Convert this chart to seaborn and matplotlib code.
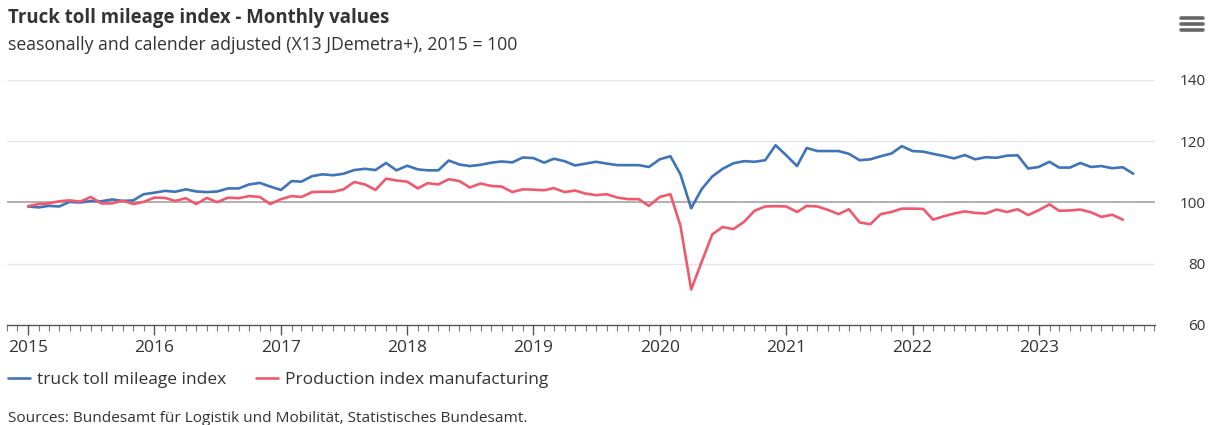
import numpy as np
import pandas as pd
import matplotlib
matplotlib.use("Agg")
import matplotlib.pyplot as plt
import matplotlib.dates as mdates
from matplotlib.lines import Line2D
import seaborn as sns

# ---------------- data ----------------
start_month = "2015-01-01"
truck_toll = [
    98.7, 98.4, 98.9, 98.7, 100.2, 100.0, 100.5, 100.4, 101.0, 100.5, 100.7, 102.7,
    103.2, 103.8, 103.5, 104.3, 103.6, 103.4, 103.6, 104.6, 104.6, 105.9, 106.4, 105.2,
    104.1, 107.0, 106.8, 108.6, 109.2, 108.9, 109.4, 110.6, 111.0, 110.6, 112.9, 110.5,
    112.0, 110.8, 110.5, 110.5, 113.7, 112.4, 111.9, 112.3, 113.0, 113.4, 113.1, 114.7,
    114.5, 113.0, 114.3, 113.5, 112.1, 112.7, 113.3, 112.7, 112.2, 112.2, 112.2, 111.6,
    114.1, 115.1, 109.2, 98.1, 104.3, 108.5, 111.0, 112.8, 113.5, 113.3, 113.8, 118.7,
    115.4, 111.9, 117.8, 116.8, 116.8, 116.8, 115.9, 113.8, 114.1, 115.1, 116.0, 118.4,
    116.8, 116.6, 115.9, 115.2, 114.4, 115.5, 114.1, 114.8, 114.6, 115.3, 115.4, 111.1,
    111.6, 113.3, 111.4, 111.4, 112.9, 111.6, 111.9, 111.2, 111.5, 109.4,
]
production = [
    98.8, 99.5, 99.7, 100.4, 100.7, 100.3, 101.8, 99.7, 99.7, 100.6, 99.5, 100.2,
    101.6, 101.5, 100.5, 101.4, 99.5, 101.5, 100.1, 101.6, 101.4, 102.1, 101.8, 99.5,
    101.1, 102.1, 101.8, 103.4, 103.5, 103.5, 104.3, 106.7, 105.9, 104.1, 107.8, 107.2,
    106.8, 104.6, 106.3, 105.9, 107.6, 107.0, 104.9, 106.2, 105.4, 105.2, 103.4, 104.3,
    104.2, 104.0, 104.7, 103.4, 103.9, 102.9, 102.4, 102.7, 101.6, 101.1, 101.1, 98.9,
    101.8, 102.7, 92.4, 71.6, 80.5, 89.6, 92.0, 91.3, 93.7, 97.3, 98.7, 98.8,
    98.7, 96.9, 98.9, 98.7, 97.6, 96.2, 97.8, 93.5, 92.9, 96.2, 96.9, 98.0,
    98.0, 97.9, 94.4, 95.5, 96.4, 97.1, 96.6, 96.4, 97.7, 96.9, 97.8, 95.9,
    97.5, 99.4, 97.3, 97.4, 97.7, 96.8, 95.3, 96.0, 94.4,
]
series_names = ["truck toll mileage index", "Production index manufacturing"]
series_colors = ["#3e74ba", "#f0596d"]
y_ticks = [60, 80, 100, 120, 140]
title = "Truck toll mileage index - Monthly values"
subtitle = "seasonally and calender adjusted (X13 JDemetra+), 2015 = 100"
source = "Sources: Bundesamt für Logistik und Mobilität, Statistisches Bundesamt."

# -------------- build long-form table --------------
frames = []
for name, vals in zip(series_names, [truck_toll, production]):
    dates = pd.date_range(start_month, periods=len(vals), freq="MS")
    frames.append(pd.DataFrame({"date": dates, "value": vals, "series": name}))
df = pd.concat(frames, ignore_index=True)

# -------------- plotting --------------
sns.set_theme(style="white")
plt.rcParams["font.family"] = ["Open Sans", "DejaVu Sans"]

W, H = 1217, 425
fig = plt.figure(figsize=(W / 100, H / 100), dpi=100)
ax = fig.add_axes([7 / W, 1 - 325 / H, (1155 - 7) / W, (325 - 80) / H])

sns.lineplot(data=df, x="date", y="value", hue="series", hue_order=series_names,
             palette=series_colors, linewidth=1.9, ax=ax, legend=False, zorder=3)

ax.set_ylim(60, 140)
ax.set_xlim(pd.Timestamp("2014-11-01"), pd.Timestamp("2023-12-03"))

# gridlines
for v in y_ticks[1:]:
    if v == 100:
        ax.axhline(v, color="#aaaaaa", lw=1.3, zorder=2)
    else:
        ax.axhline(v, color="#e6e6e6", lw=1.0, zorder=1)

# axes spines
for s in ["top", "right", "left"]:
    ax.spines[s].set_visible(False)
ax.spines["bottom"].set_color("#555555")
ax.spines["bottom"].set_linewidth(1.0)

# y ticks on right
ax.yaxis.tick_right()
ax.set_yticks(y_ticks)
ax.set_yticklabels([str(v) for v in y_ticks])
ax.tick_params(axis="y", length=0, pad=36.5, labelsize=11, labelcolor="#333333")
for lbl in ax.get_yticklabels():
    lbl.set_horizontalalignment("right")

# x ticks
ax.xaxis.set_major_locator(mdates.YearLocator())
ax.xaxis.set_major_formatter(mdates.DateFormatter("%Y"))
ax.xaxis.set_minor_locator(mdates.MonthLocator())
ax.tick_params(axis="x", which="major", length=7, width=1.0, color="#555555",
               labelsize=12.5, labelcolor="#333333", pad=4, bottom=True, direction="out")
ax.tick_params(axis="x", which="minor", length=4, width=0.8, color="#777777",
               bottom=True, direction="out")
ax.set_xlabel("")
ax.set_ylabel("")

# titles
fig.text(8 / W, 1 - 18 / H, title, fontsize=13.4, fontweight="bold",
         color="#333333", va="center", ha="left")
fig.text(8 / W, 1 - 45 / H, subtitle, fontsize=12.7, color="#333333",
         va="center", ha="left")

# legend
handles = [Line2D([], [], color=c, lw=1.9) for c in series_colors]
fig.legend(handles, series_names, loc="center left",
           bbox_to_anchor=(8 / W, 1 - 380 / H), ncol=2, frameon=False,
           fontsize=12.5, handlelength=1.27, handletextpad=0.4, columnspacing=1.7,
           borderpad=0, borderaxespad=0, labelcolor="#333333")

# source
fig.text(8 / W, 1 - 418 / H, source, fontsize=11.1, color="#333333",
         va="center", ha="left")

# menu icon
for yy in [18, 24, 30]:
    fig.add_artist(Line2D([1181 / W, 1203 / W], [1 - yy / H, 1 - yy / H],
                          color="#666666", lw=2.6, solid_capstyle="round"))

fig.savefig("out.png", dpi=100)
